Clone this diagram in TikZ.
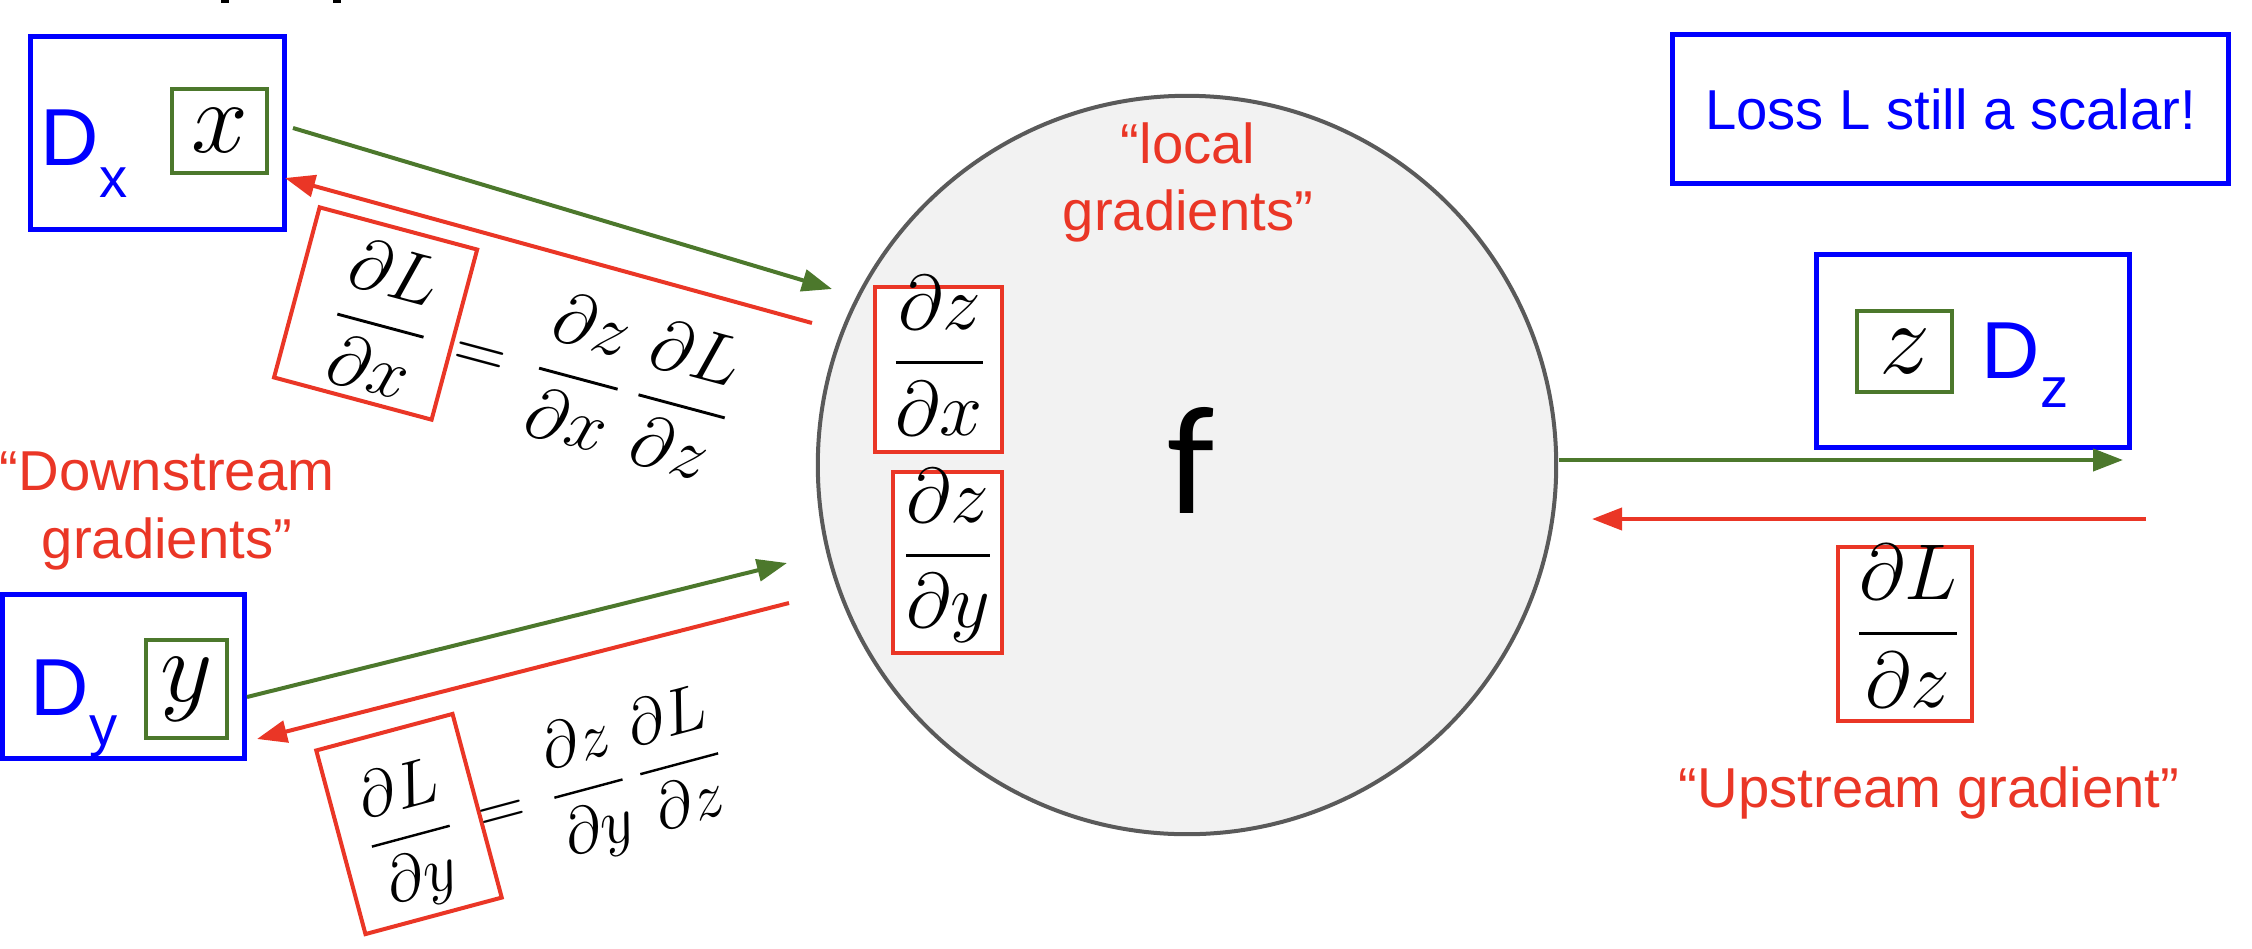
\RequirePackage{fix-cm}
\documentclass[tikz,border=0pt]{standalone}
\usepackage{amsmath}
\usepackage[no-math]{fontspec}
\setmainfont{Liberation Sans}
\newfontfamily\calfont{Carlito}
\usetikzlibrary{arrows.meta}
\definecolor{gblue}{RGB}{0,0,255}
\definecolor{ggreen}{RGB}{76,120,44}
\definecolor{gred}{RGB}{234,54,38}
\definecolor{ggray}{RGB}{90,90,90}
\definecolor{gfill}{RGB}{242,242,242}
\begin{document}
\begin{tikzpicture}[x=0.01cm,y=-0.01cm,
  bluebox/.style={draw=gblue, line width=0.05cm, rectangle, inner sep=0},
  greenbox/.style={draw=ggreen, line width=0.04cm, rectangle, inner sep=0, fill=white},
  redbox/.style={draw=gred, line width=0.04cm, rectangle, inner sep=0},
  lab/.style={text=gred, font=\fontsize{16}{19}\selectfont, inner sep=0, anchor=base},
  dlab/.style={text=gblue, inner sep=0, anchor=base west},
  varf/.style={font=\fontsize{29}{29}\selectfont, inner sep=0},
  locf/.style={font=\fontsize{22}{26}\selectfont, inner sep=0, anchor=base},
  equp/.style={font=\fontsize{20.5}{24}\selectfont, inner sep=0, anchor=base, transform shape},
  eqlo/.style={font=\fontsize{18.5}{22}\selectfont, inner sep=0, anchor=base, transform shape},
  fwd/.style={draw=ggreen, line width=0.04cm, -{Triangle[length=0.3cm,width=0.22cm]}},
  bwd/.style={draw=gred, line width=0.04cm, -{Triangle[length=0.3cm,width=0.22cm]}}]
\useasboundingbox (0,0) rectangle (2252,948);

% cut-off fragments of text at the top edge
\fill[black] (221,0) rectangle (229,3);
\fill[black] (333,0) rectangle (341,3);

% function node
\node[circle, draw=ggray, fill=gfill, line width=0.04cm, minimum size=7.38cm, inner sep=0] (fn) at (1187,465) {};
\node[font=\calfont\fontsize{44}{44}\selectfont, inner sep=0, anchor=base] (ftext) at (1191,513) {f};
\node[lab] (loc1) at (1188,163) {“local};
\node[lab] (loc2) at (1188,230) {gradients”};

% local gradients
\node[redbox, fill=white, minimum width=1.27cm, minimum height=1.65cm] (lxb) at (938.5,369.5) {};
\node[locf] (lxf) at (939.5,382) {$\dfrac{\partial z}{\partial x}$};
\node[redbox, fill=white, minimum width=1.09cm, minimum height=1.81cm] (lyb) at (947.5,562.5) {};
\node[locf] (lyf) at (948,574.5) {$\dfrac{\partial z}{\partial y}$};

% inputs
\node[bluebox, minimum width=2.53cm, minimum height=1.92cm] (dx) at (157.5,133) {};
\node[greenbox, varf, minimum width=0.95cm, minimum height=0.84cm] (xv) at (219.5,131) {$x$};
\node[dlab] (dxl) at (40,165) {\fontsize{23}{23}\selectfont D\raisebox{-9.1pt}{\fontsize{16}{16}\selectfont x}};

\node[bluebox, minimum width=2.41cm, minimum height=1.63cm] (dy) at (123.5,676.5) {};
\node[greenbox, varf, minimum width=0.81cm, minimum height=0.98cm] (yv) at (186.5,689) {$y$};
\node[dlab] (dyl) at (30,715) {\fontsize{23}{23}\selectfont D\raisebox{-8.8pt}{\fontsize{16}{16}\selectfont y}};

% output
\node[bluebox, minimum width=3.12cm, minimum height=1.92cm] (dz) at (1973,351) {};
\node[greenbox, varf, minimum width=0.95cm, minimum height=0.81cm] (zv) at (1904.5,351.5) {$z$};
\node[dlab] (dzl) at (1981,378) {\fontsize{23}{23}\selectfont D\raisebox{-8.5pt}{\fontsize{16}{16}\selectfont z}};

\node[bluebox, text=gblue, font=\fontsize{16}{19}\selectfont, minimum width=5.55cm, minimum height=1.48cm] (loss) at (1950.5,109) {Loss L still a scalar!};

\node[redbox, fill=white, minimum width=1.34cm, minimum height=1.74cm] (upb) at (1905,634) {};
\node[font=\fontsize{22.5}{26}\selectfont, inner sep=0, anchor=base] (upf) at (1908,653) {$\dfrac{\partial L}{\partial z}$};
\node[lab] (upl) at (1929,807) {“Upstream gradient”};

\node[lab] (dn1) at (167,490) {“Downstream};
\node[lab] (dn2) at (167,558) {gradients”};

% connectors
\coordinate (gx0) at (293,128);  \coordinate (gx1) at (832,289);
\coordinate (rx0) at (812,323);  \coordinate (rx1) at (285,178);
\coordinate (gy0) at (247,697);  \coordinate (gy1) at (787,563);
\coordinate (ry0) at (789,603);  \coordinate (ry1) at (257,739);
\coordinate (gz0) at (1559,460); \coordinate (gz1) at (2123,460);
\coordinate (rz0) at (2146,519); \coordinate (rz1) at (1592,519);
\draw[fwd] (gx0) -- (gx1);
\draw[bwd] (rx0) -- (rx1);
\draw[fwd] (gy0) -- (gy1);
\draw[bwd] (ry0) -- (ry1);
\draw[fwd] (gz0) -- (gz1);
\draw[bwd] (rz0) -- (rz1);

% downstream gradient equations
\begin{scope}[shift={(375.6,313.5)}, rotate=-15]
  \node[redbox, transform shape, minimum width=1.63cm, minimum height=1.76cm] (eqxb) at (0,0) {};
  \node[equp] (eqx1) at (7.8,28.5) {$\dfrac{\partial L}{\partial x}$};
  \node[equp] (eqx2) at (112,31) {$=$};
  \node[equp] (eqx3) at (212.7,28.5) {$\dfrac{\partial z}{\partial x}$};
  \node[equp] (eqx4) at (319.6,28.5) {$\dfrac{\partial L}{\partial z}$};
\end{scope}
\begin{scope}[shift={(409,824)}, rotate=15]
  \node[redbox, transform shape, minimum width=1.41cm, minimum height=1.90cm] (eqyb) at (0,0) {};
  \node[eqlo] (eqy1) at (-1.4,28.5) {$\dfrac{\partial L}{\partial y}$};
  \node[eqlo] (eqy2) at (92.9,28.5) {$=$};
  \node[eqlo] (eqy3) at (182.5,28.5) {$\dfrac{\partial z}{\partial y}$};
  \node[eqlo] (eqy4) at (276.6,28) {$\dfrac{\partial L}{\partial z}$};
\end{scope}
\end{tikzpicture}
\end{document}
